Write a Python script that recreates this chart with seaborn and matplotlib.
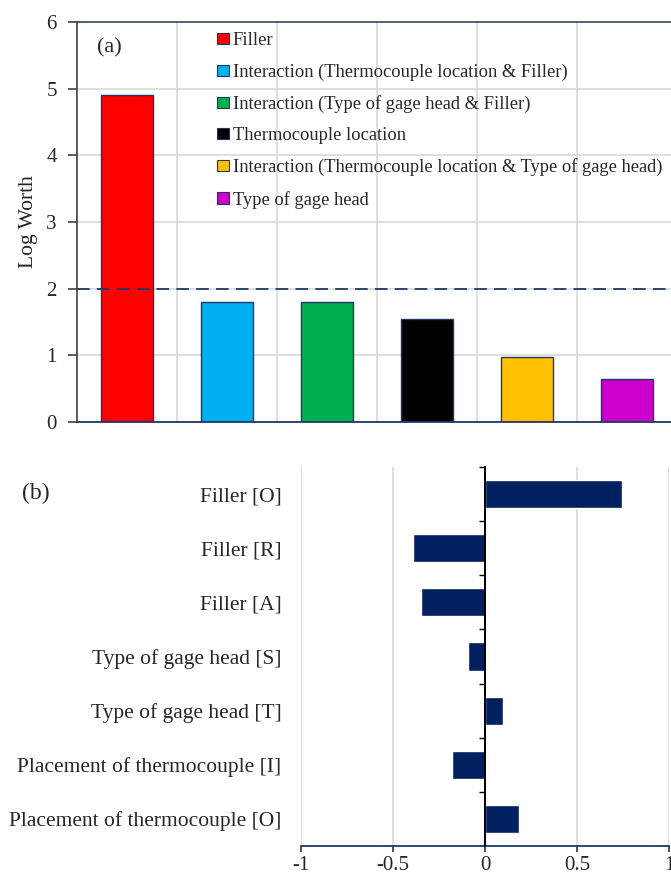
import numpy as np
import pandas as pd
import seaborn as sns
import matplotlib.pyplot as plt

# panel (a): LogWorth of each effect
factors = ['Filler',
           'Interaction (Thermocouple location & Filler)',
           'Interaction (Type of gage head & Filler)',
           'Thermocouple location',
           'Interaction (Thermocouple location & Type of gage head)',
           'Type of gage head']
logworth = [4.91, 1.80, 1.80, 1.54, 0.98, 0.65]
bar_colors = ['#FF0000', '#00B0F0', '#00B050', '#000000', '#FFC000', '#CC00CC']

# panel (b): parameter estimates
terms = ['Filler [O]', 'Filler [R]', 'Filler [A]',
         'Type of gage head [S]', 'Type of gage head [T]',
         'Placement of thermocouple [I]', 'Placement of thermocouple [O]']
estimates = [0.745, -0.39, -0.347, -0.095, 0.096, -0.18, 0.185]

navy = '#1F3864'
bar_navy = '#002060'
grid_gray = '#D9D9D9'

sns.set_theme(style='white')
plt.rcParams['font.family'] = ['Liberation Serif', 'DejaVu Serif']

fig = plt.figure(figsize=(6.71, 8.80), dpi=100)

# ---- (a) ----
ax1 = fig.add_axes([77 / 671, 1 - 422 / 880, 600 / 671, 400 / 880])
df_a = pd.DataFrame({'factor': factors, 'logworth': logworth})
sns.barplot(data=df_a, x='factor', y='logworth', hue='factor', palette=bar_colors,
            width=0.52, edgecolor=navy, linewidth=1.0, saturation=1,
            legend=False, ax=ax1)
ax1.set_ylim(0, 6)
ax1.set_xlim(-0.5, len(factors) - 0.5)
ax1.set_yticks(range(0, 7))
ax1.set_xticks(np.arange(0.5, len(factors), 1.0), minor=True)
ax1.set_xticks([])
ax1.grid(True, axis='y', color=grid_gray, lw=1.2, zorder=0)
ax1.grid(True, axis='x', which='minor', color=grid_gray, lw=1.2, zorder=0)
ax1.set_axisbelow(True)
ax1.tick_params(axis='x', which='minor', length=0)
ax1.tick_params(axis='y', left=True, direction='out', length=6.5, width=1.2,
                color='#404040', labelsize=15, pad=8)
ax1.axhline(2, color=navy, lw=1.3, ls=(0, (7, 4)), zorder=3)
for side in ['top', 'bottom', 'left']:
    ax1.spines[side].set_visible(True)
ax1.spines['right'].set_visible(False)
ax1.spines['top'].set_color('#44546A')
ax1.spines['top'].set_linewidth(1.3)
ax1.spines['bottom'].set_color(navy)
ax1.spines['bottom'].set_linewidth(1.3)
ax1.spines['left'].set_color('#404040')
ax1.spines['left'].set_linewidth(1.2)
ax1.set_xlabel('')
ax1.set_ylabel('Log Worth', fontsize=15.5, labelpad=6)
ax1.text(0.033, 0.935, '(a)', transform=ax1.transAxes, fontsize=16, va='center')

handles = [c.patches[0] for c in ax1.containers]
leg = ax1.legend(handles, factors, loc='upper left', bbox_to_anchor=(0.233, 0.974),
                 frameon=False, fontsize=13.3, handlelength=0.65, handleheight=0.55,
                 handletextpad=0.2, labelspacing=0.77, borderaxespad=0,
                 borderpad=0)
for h in leg.legend_handles:
    h.set_edgecolor(navy)
    h.set_linewidth(0.8)

# ---- (b) ----
ax2 = fig.add_axes([301 / 671, 1 - 846 / 880, 368 / 671, 379 / 880])
df_b = pd.DataFrame({'term': terms, 'estimate': estimates})
sns.barplot(data=df_b, x='estimate', y='term', orient='h', color=bar_navy,
            saturation=1, width=0.52, ax=ax2)
ax2.set_xlim(-1, 1)
ax2.set_xticks([-1, -0.5, 0, 0.5, 1])
ax2.set_xticklabels(['-1', '-0.5', '0', '0.5', '1'])
ax2.grid(True, axis='x', color=grid_gray, lw=1.2, zorder=0)
ax2.set_axisbelow(True)
ax2.tick_params(axis='x', bottom=True, direction='out', length=4.5, width=1.2,
                color=navy, labelsize=15, pad=3)
ax2.tick_params(axis='y', left=False, length=0, labelsize=15.5, pad=14)
for side in ['top', 'left', 'right']:
    ax2.spines[side].set_visible(False)
ax2.spines['bottom'].set_visible(True)
ax2.spines['bottom'].set_color(navy)
ax2.spines['bottom'].set_linewidth(1.3)
ax2.set_xlabel('')
ax2.set_ylabel('')
ax2.axvline(0, color='black', lw=1.3, zorder=4)

# separators between terms on the zero line
zero = ax2.secondary_yaxis(0.5)
zero.set_alignment('left')
zero.set_zorder(5)
zero.set_yticks(np.arange(-0.5, len(terms) - 1, 1.0))
zero.set_yticklabels([])
zero.tick_params(axis='y', direction='out', length=4.5, width=1.0, color='black')
zero.spines['left'].set_color('black')
zero.spines['left'].set_linewidth(1.3)

fig.text(22 / 671, 1 - 493 / 880, '(b)', fontsize=17, va='center')

fig.savefig('out.png', dpi=100)
